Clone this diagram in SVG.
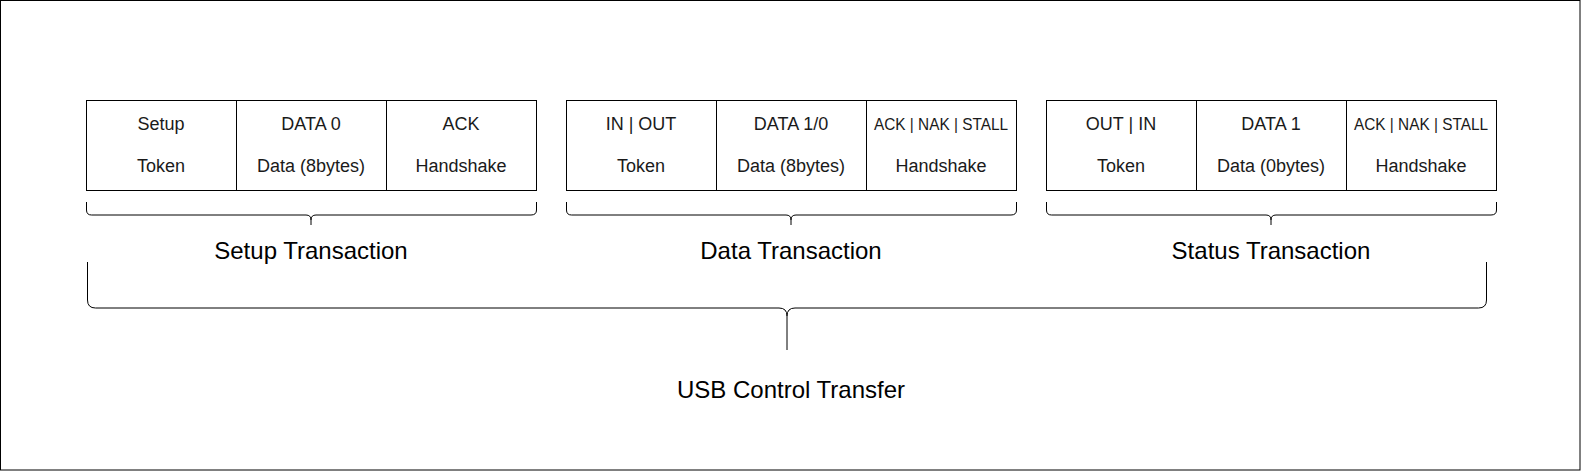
<svg xmlns="http://www.w3.org/2000/svg" width="1581" height="471" viewBox="0 0 1581 471">
<style>
.cell{fill:#fff;stroke:#000;stroke-width:1}
.t{font-family:"Liberation Sans",Arial,sans-serif;font-size:18px;fill:#1a1a1a;text-anchor:middle}
.ts{font-family:"Liberation Sans",Arial,sans-serif;font-size:17px;fill:#1a1a1a;text-anchor:middle}
.title{font-family:"Liberation Sans",Arial,sans-serif;font-size:24px;fill:#000;text-anchor:middle}
.brace{fill:none;stroke:#000;stroke-width:1}
</style>
<rect x="0.5" y="0.5" width="1579.5" height="469.5" fill="#fff" stroke="#000"/>

<g id="setup-transaction">
<rect class="cell" x="86.5" y="100.5" width="150" height="90"/>
<rect class="cell" x="236.5" y="100.5" width="150" height="90"/>
<rect class="cell" x="386.5" y="100.5" width="150" height="90"/>
<text class="t" x="161" y="129.5">Setup</text>
<text class="t" x="161" y="172">Token</text>
<text class="t" x="311" y="129.5">DATA 0</text>
<text class="t" x="311" y="172">Data (8bytes)</text>
<text class="t" x="461" y="129.5">ACK</text>
<text class="t" x="461" y="172">Handshake</text>
</g>

<g id="data-transaction">
<rect class="cell" x="566.5" y="100.5" width="150" height="90"/>
<rect class="cell" x="716.5" y="100.5" width="150" height="90"/>
<rect class="cell" x="866.5" y="100.5" width="150" height="90"/>
<text class="t" x="641" y="129.5">IN | OUT</text>
<text class="t" x="641" y="172">Token</text>
<text class="t" x="791" y="129.5">DATA 1/0</text>
<text class="t" x="791" y="172">Data (8bytes)</text>
<text class="ts" x="941" y="129.5" textLength="134" lengthAdjust="spacingAndGlyphs">ACK | NAK | STALL</text>
<text class="t" x="941" y="172">Handshake</text>
</g>

<g id="status-transaction">
<rect class="cell" x="1046.5" y="100.5" width="150" height="90"/>
<rect class="cell" x="1196.5" y="100.5" width="150" height="90"/>
<rect class="cell" x="1346.5" y="100.5" width="150" height="90"/>
<text class="t" x="1121" y="129.5">OUT | IN</text>
<text class="t" x="1121" y="172">Token</text>
<text class="t" x="1271" y="129.5">DATA 1</text>
<text class="t" x="1271" y="172">Data (0bytes)</text>
<text class="ts" x="1421" y="129.5" textLength="134" lengthAdjust="spacingAndGlyphs">ACK | NAK | STALL</text>
<text class="t" x="1421" y="172">Handshake</text>
</g>

<g id="braces">
<path class="brace" d="M86.5,202 V210 Q86.5,215 91.5,215 H306 Q311,215 311,220 Q311,215 316,215 H531 Q536.5,215 536.5,210 V202 M311,220 V225"/>
<path class="brace" d="M566.5,202 V210 Q566.5,215 571.5,215 H786 Q791,215 791,220 Q791,215 796,215 H1011 Q1016.5,215 1016.5,210 V202 M791,220 V225"/>
<path class="brace" d="M1046.5,202 V210 Q1046.5,215 1051.5,215 H1266 Q1271,215 1271,220 Q1271,215 1276,215 H1491 Q1496.5,215 1496.5,210 V202 M1271,220 V225"/>
<path class="brace" d="M87.5,262 V300 Q87.5,308 95.5,308 H779 Q787,308 787,316 Q787,308 795,308 H1478.5 Q1486.5,308 1486.5,300 V262 M787,316 V350"/>
</g>

<g id="labels">
<text class="title" x="311" y="259">Setup Transaction</text>
<text class="title" x="791" y="259">Data Transaction</text>
<text class="title" x="1271" y="259">Status Transaction</text>
<text class="title" x="791" y="398">USB Control Transfer</text>
</g>
</svg>
